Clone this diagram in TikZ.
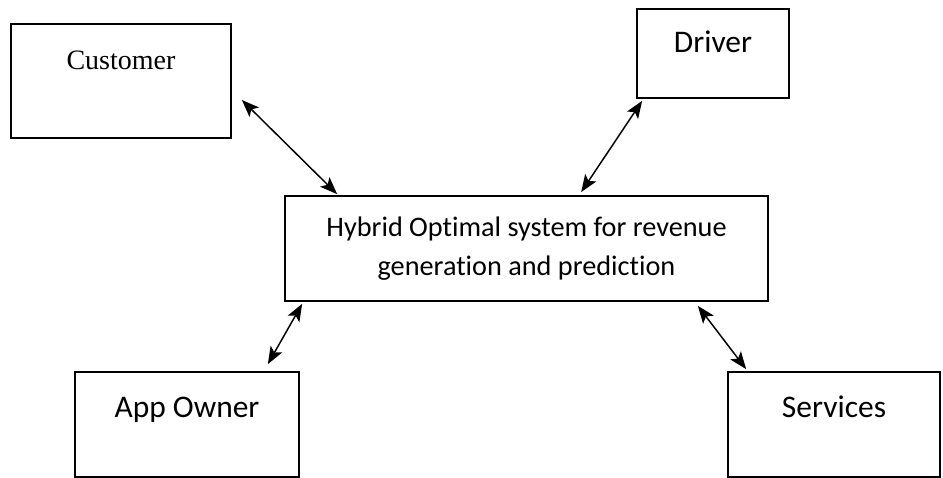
\documentclass[tikz,border=0pt]{standalone}
\usepackage{fontspec}
\usetikzlibrary{arrows.meta}
\newfontfamily\calibrifont[Ligatures=NoCommon]{Carlito}
\newfontfamily\timesfont{Liberation Serif}
\tikzset{every picture/.style={line width=0.9pt}}
\tikzset{
    box/.style={draw, line width=1.3pt, inner sep=0pt},
    toptext/.style={anchor=base, yshift=-34.5pt},
    link/.style={>={Stealth[length=13pt,width=10pt,inset=3pt]}, <->, line width=1.1pt},
}

\begin{document}
\begin{tikzpicture}[x=0.75pt,y=-0.75pt]
    \useasboundingbox (0,0) rectangle (943,478);
    \node[box, minimum width=165pt, minimum height=85.5pt,
          label={[toptext, font=\timesfont\fontsize{21}{25}\selectfont]north:Customer}] (cust) at (121,81) {};
    \node[box, minimum width=114pt, minimum height=66.75pt,
          label={[toptext, yshift=1.5pt, font=\calibrifont\fontsize{23.6}{28}\selectfont]north:Driver}] (drv) at (713,53.5) {};
    \node[box, minimum width=362.25pt, minimum height=78.75pt, align=center,
          font=\calibrifont\fontsize{21.2}{29.5}\selectfont] (hub) at (526.5,248.5)
          {Hybrid Optimal system for revenue\\generation and prediction};
    \node[box, minimum width=168pt, minimum height=78.75pt,
          label={[toptext, font=\calibrifont\fontsize{23.6}{28}\selectfont]north:App Owner}] (owner) at (187,424.5) {};
    \node[box, minimum width=159pt, minimum height=78.75pt,
          label={[toptext, font=\calibrifont\fontsize{23.6}{28}\selectfont]north:Services}] (serv) at (834,424.5) {};
    % two-way links to the hub
    \draw[link] ([shift={(10,19)}]cust.east) -- ([shift={(53,-1)}]hub.north west);
    \draw[link] ([shift={(6,2)}]drv.south west) -- ([shift={(297,-3)}]hub.north west);
    \draw[link] ([shift={(18,2)}]hub.south west) -- ([shift={(-32,-7)}]owner.north east);
    \draw[link] ([shift={(-71,4)}]hub.south east) -- ([shift={(19,-2)}]serv.north west);
\end{tikzpicture}
\end{document}
